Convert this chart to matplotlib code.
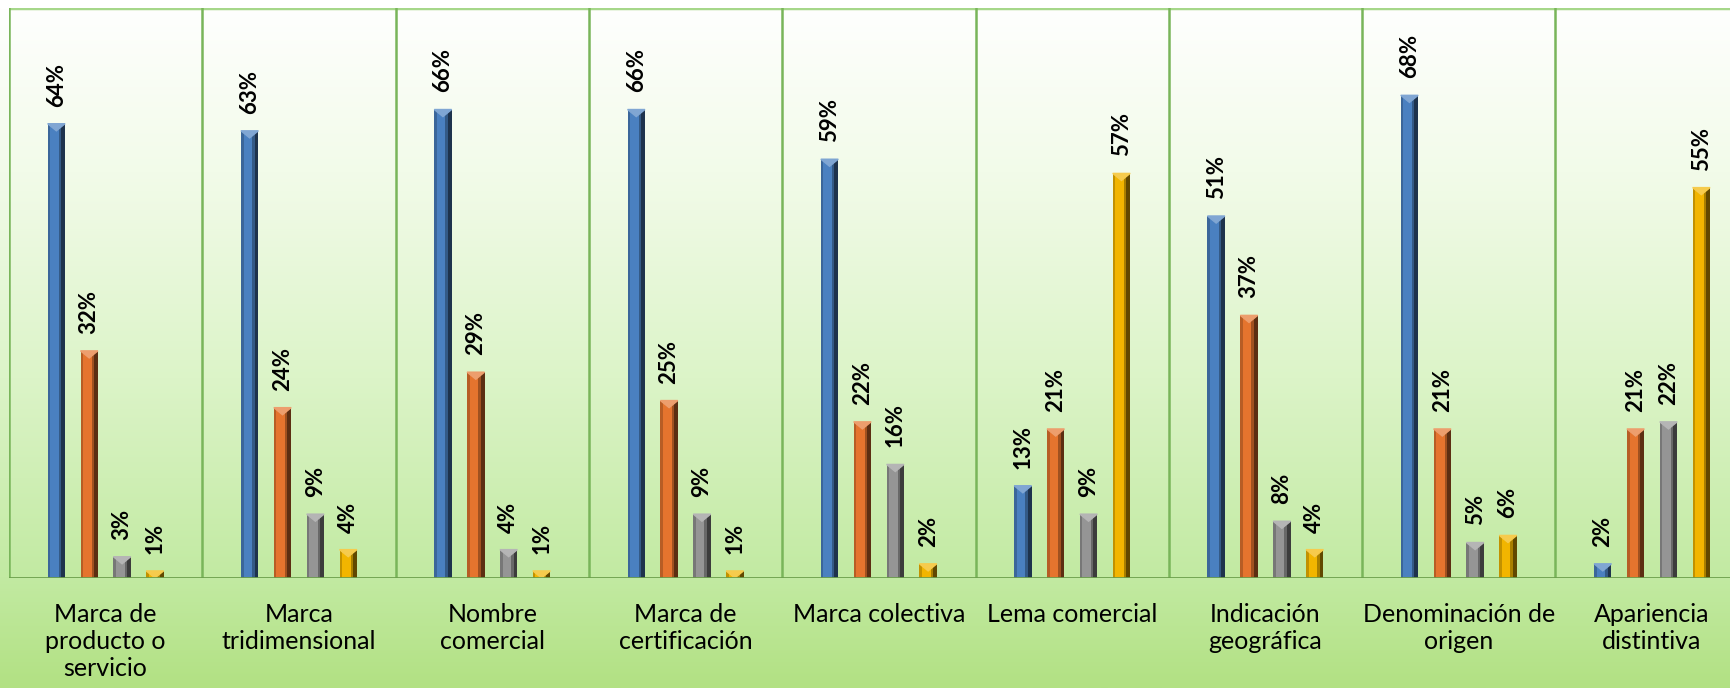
import numpy as np
import matplotlib.pyplot as plt
from matplotlib.colors import LinearSegmentedColormap, to_rgb
from matplotlib.patches import Polygon

# categories and the four series (percent)
categories = ['Marca de\nproducto o\nservicio', 'Marca\ntridimensional', 'Nombre\ncomercial',
              'Marca de\ncertificación', 'Marca colectiva', 'Lema comercial',
              'Indicación\ngeográfica', 'Denominación de\norigen', 'Apariencia\ndistintiva']
serie_azul = [64, 63, 66, 66, 59, 13, 51, 68, 2]
serie_naranja = [32, 24, 29, 25, 22, 21, 37, 21, 21]
serie_gris = [3, 9, 4, 9, 16, 9, 8, 5, 22]
serie_oro = [1, 4, 1, 1, 2, 57, 4, 6, 55]

series = [serie_azul, serie_naranja, serie_gris, serie_oro]
colors = ['#4a80c0', '#e5742e', '#959595', '#f2b500']

plt.rcParams['font.family'] = ['Lato', 'DejaVu Sans']

fig = plt.figure(figsize=(17.3, 6.88), dpi=100)

# background gradient, white at top to green at the bottom
bg = fig.add_axes([0, 0, 1, 1], zorder=-10)
cmap = LinearSegmentedColormap.from_list('fondo', [(0.0, '#ffffff'), (0.25, '#f2fbe9'),
                                                   (0.55, '#dcf4c8'), (0.84, '#c2eaa2'),
                                                   (1.0, '#b2e183')])
bg.imshow(np.linspace(0, 1, 256).reshape(-1, 1), aspect='auto', cmap=cmap, extent=[0, 1, 0, 1])
bg.axis('off')
fig.patches.append(plt.Rectangle((0, 0.9884), 1, 0.0116, transform=fig.transFigure,
                                 color='white', zorder=-5))

ax = fig.add_axes([9 / 1730, 110 / 688, 1 - 9 / 1730, 570 / 688])
ax.set_facecolor('none')

x = np.arange(len(categories))
step = 0.17
width = 0.09


def shade(c, f):
    r, g, b = to_rgb(c)
    if f < 1:
        return (r * f, g * f, b * f)
    return (r + (1 - r) * (f - 1), g + (1 - g) * (f - 1), b + (1 - b) * (f - 1))


for i, (vals, c) in enumerate(zip(series, colors)):
    xs = x + (i - 1.5) * step
    ax.bar(xs, vals, width, color=c, zorder=3)
    # bevel look: darker left edge and dark right edge
    ax.bar(xs - width / 2, vals, width * 0.15, align='edge', color=shade(c, 0.8), zorder=4)
    ax.bar(xs + width / 2 - width * 0.22, vals, width * 0.22, align='edge', color=shade(c, 0.4), zorder=4)
    ax.bar(xs + width / 2 - width * 0.36, vals, width * 0.14, align='edge', color=shade(c, 0.7), zorder=4)
    for xv, v in zip(xs, vals):
        h = min(v, 1.0)
        ax.add_patch(Polygon([(xv - width / 2, v), (xv + width / 2, v), (xv, v - h)],
                             closed=True, color=shade(c, 1.3), zorder=5))
        ax.text(xv, v + 2.4, f'{v}%', rotation=90, ha='center', va='bottom',
                fontsize=16, fontweight='bold', color='black', zorder=6)

ax.set_xlim(-0.5, -0.5 + 1721 / 193.3)
ax.set_ylim(0, 80.3)

for s in ax.spines.values():
    s.set_visible(False)
ax.axhline(80.3, color='#a6d78a', lw=2.5, zorder=2)
ax.axhline(0, color='#6c9f4c', lw=2, zorder=6)
for sep in np.arange(-0.5, len(categories), 1.0):
    ax.axvline(sep, color='#79b55a', lw=1.8, zorder=2)

ax.set_xticks(x)
ax.set_xticklabels(categories, fontsize=18, linespacing=1.22)
ax.tick_params(axis='x', length=0, pad=18)
ax.set_yticks([])

fig.savefig('out.png', dpi=100)
